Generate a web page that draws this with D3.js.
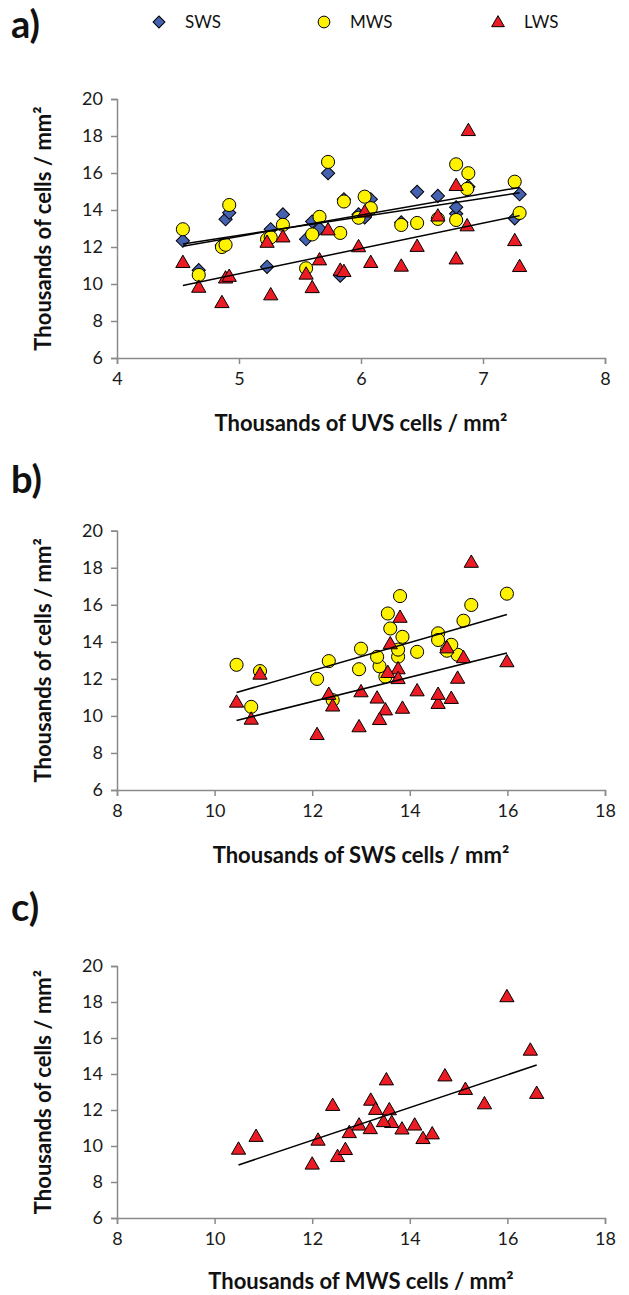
<!DOCTYPE html>
<html><head><meta charset="utf-8">
<script src="https://cdn.jsdelivr.net/npm/d3@7"></script>
<style>body{margin:0;background:#fff}svg{display:block}</style>
</head><body>
<script>
// Per-animal values (thousands of cells / mm²)
const uvs = [4.54,4.67,4.86,4.89,4.92,5.23,5.26,5.36,5.55,5.60,5.66,5.73,5.83,5.86,5.98,6.03,6.08,6.33,6.46,6.63,6.78,6.78,6.88,6.87,7.26,7.30];
const sws = [12.34,10.75,12.10,13.50,13.85,10.93,12.96,13.76,12.42,13.38,13.00,15.99,10.45,14.58,13.76,13.60,14.58,13.33,14.98,14.76,13.80,14.15,15.26,15.10,13.55,14.85];
const mws = [12.96,10.49,12.00,12.12,14.27,12.42,12.52,13.20,10.85,12.68,13.63,16.60,12.76,14.46,13.58,14.72,14.10,13.19,13.30,13.52,16.47,13.46,15.99,15.14,15.53,13.84];
const lws = [11.17,9.83,9.00,10.33,10.42,12.26,9.42,12.55,10.54,9.81,11.31,12.93,10.75,10.68,12.02,13.90,11.17,10.97,12.04,13.68,15.33,11.36,18.30,13.15,12.35,10.95];

const seriesNames = ["SWS","MWS","LWS"];
const xTicksA = [4,5,6,7,8];
const xTicksBC = [8,10,12,14,16,18];
const yTicks = [6,8,10,12,14,16,18,20];
const panelLabels = ["a)","b)","c)"];
const xTitles = ["Thousands of UVS cells / mm²","Thousands of SWS cells / mm²","Thousands of MWS cells / mm²"];
const yTitle = "Thousands of cells / mm²";

const W = 629, H = 1295;
const FONT = "Lato, 'Open Sans', 'DejaVu Sans', sans-serif";
const styles = {
  SWS: {type: "diamond", fill: "#4562B0"},
  MWS: {type: "circle", fill: "#FFF200"},
  LWS: {type: "triangle", fill: "#EC1C24"}
};
const data = {SWS: sws, MWS: mws, LWS: lws, UVS: uvs};

const svg = d3.select("body").append("svg").attr("width", W).attr("height", H)
  .style("font-family", FONT);

function symbolPath(type, scale) {
  scale = scale || 1;
  if (type === "circle") return d3.symbol(d3.symbolCircle, 135 * scale)();
  if (type === "diamond") return d3.symbol(d3.symbolSquare, 88 * scale)();
  return d3.symbol(d3.symbolTriangle, 88 * scale)();
}
function drawMarker(g, type, fill, x, y, scale) {
  const p = g.append("path").attr("d", symbolPath(type, scale))
    .attr("fill", fill).attr("stroke", "#000").attr("stroke-width", 1);
  if (type === "diamond") p.attr("transform", `translate(${x},${y}) rotate(45)`);
  else if (type === "triangle") p.attr("transform", `translate(${x},${y + 1})`);
  else p.attr("transform", `translate(${x},${y})`);
}
function fit(xs, ys) {
  const n = xs.length, mx = d3.mean(xs), my = d3.mean(ys);
  let sxy = 0, sxx = 0;
  for (let i = 0; i < n; i++) { sxy += (xs[i]-mx)*(ys[i]-my); sxx += (xs[i]-mx)**2; }
  const b = sxy / sxx; return {a: my - b*mx, b};
}

const panels = [
  {xKey: "UVS", ys: ["SWS","MWS","LWS"], xDomain: [4,8], xTicks: xTicksA, top: 99, bottom: 358, labelY: 25, titleY: 423},
  {xKey: "SWS", ys: ["MWS","LWS"], xDomain: [8,18], xTicks: xTicksBC, top: 530.7, bottom: 790, labelY: 480, titleY: 855},
  {xKey: "MWS", ys: ["LWS"], xDomain: [8,18], xTicks: xTicksBC, top: 966, bottom: 1218, labelY: 908, titleY: 1281}
];
const left = 117, right = 605;

panels.forEach((p, pi) => {
  const x = d3.scaleLinear().domain(p.xDomain).range([left, right]);
  const y = d3.scaleLinear().domain([6, 20]).range([p.bottom, p.top]);
  const g = svg.append("g");

  // axes
  const ax = g.append("g").attr("transform", `translate(0,${p.bottom})`)
    .call(d3.axisBottom(x).tickValues(p.xTicks).tickSize(6).tickPadding(8).tickFormat(d3.format("d")));
  const ay = g.append("g").attr("transform", `translate(${left},0)`)
    .call(d3.axisLeft(y).tickValues(yTicks).tickSize(6).tickPadding(8).tickFormat(d3.format("d")));
  [ax, ay].forEach(a => {
    a.select(".domain").attr("stroke", "#8a8a8a").attr("stroke-width", 1.5);
    a.selectAll(".tick line").attr("stroke", "#8a8a8a").attr("stroke-width", 1.5);
    a.selectAll(".tick text").attr("fill", "#1a1a1a").style("font-size", "18px").style("font-family", FONT);
  });

  // titles
  g.append("text").attr("x", (left + right) / 2).attr("y", p.titleY).attr("dy", "0.35em")
    .attr("text-anchor", "middle").style("font-size", "22px").style("font-weight", "bold")
    .attr("fill", "#111").text(xTitles[pi]);
  g.append("text").attr("transform", `translate(43,${(p.top + p.bottom) / 2}) rotate(-90)`)
    .attr("dy", "0.35em").attr("text-anchor", "middle").style("font-size", "22px").style("font-weight", "bold")
    .attr("fill", "#111").text(yTitle);
  g.append("text").attr("x", 11).attr("y", p.labelY).attr("dy", "0.35em")
    .style("font-size", "38px").style("font-weight", "bold").attr("fill", "#111").text(panelLabels[pi]);

  // markers
  const xs = data[p.xKey];
  p.ys.forEach(k => {
    const ys = data[k];
    xs.forEach((xv, i) => drawMarker(g, styles[k].type, styles[k].fill, x(xv), y(ys[i])));
  });
  // trend lines
  p.ys.forEach(k => {
    const f = fit(xs, data[k]);
    const x0 = d3.min(xs), x1 = d3.max(xs);
    g.append("line").attr("x1", x(x0)).attr("y1", y(f.a + f.b*x0))
      .attr("x2", x(x1)).attr("y2", y(f.a + f.b*x1))
      .attr("stroke", "#000").attr("stroke-width", 1.5);
  });
});

// legend
const legX = [159, 324, 498];
const lg = svg.append("g");
seriesNames.forEach((k, i) => {
  drawMarker(lg, styles[k].type, styles[k].fill, legX[i], 22, 0.8);
  lg.append("text").attr("x", legX[i] + 26).attr("y", 22).attr("dy", "0.35em")
    .style("font-size", "17px").attr("fill", "#111").text(k);
});
</script>
</body></html>
